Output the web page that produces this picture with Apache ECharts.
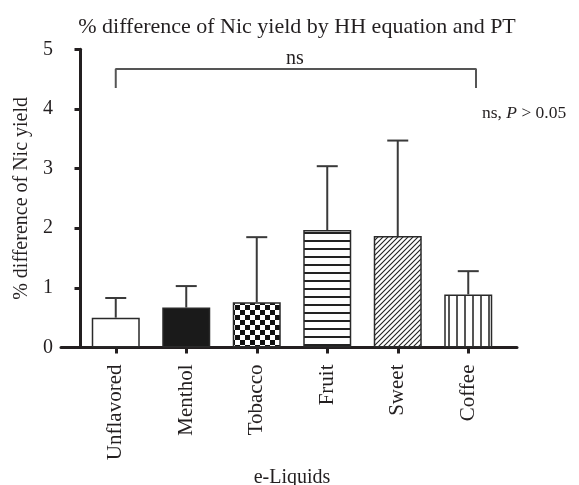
<!DOCTYPE html>
<html>
<head>
<meta charset="utf-8">
<script src="https://cdn.jsdelivr.net/npm/echarts@6/dist/echarts.min.js"></script>
<style>html,body{margin:0;padding:0;background:#fff;}#c{width:579px;height:485px;}</style>
</head>
<body>
<div id="c"></div>
<script>
const categories = ['Unflavored', 'Menthol', 'Tobacco', 'Fruit', 'Sweet', 'Coffee'];
const means = [0.50, 0.67, 0.76, 1.97, 1.87, 0.89];
const upperError = [0.83, 1.03, 1.85, 3.04, 3.47, 1.28];
const yTickValues = [0, 1, 2, 3, 4, 5];
const bracketX = [0.5, 0.5, 5.61, 5.61];
const bracketY = [4.35, 4.67, 4.67, 4.35];

const FONT = 'Liberation Serif';
const INK = '#231f20';

function pattern(kind) {
  const c = document.createElement('canvas');
  let ctx;
  if (kind === 'checker') {
    c.width = 10; c.height = 10; ctx = c.getContext('2d');
    ctx.fillStyle = '#fff'; ctx.fillRect(0, 0, 10, 10);
    ctx.fillStyle = '#111';
    ctx.fillRect(0, 0, 5, 5); ctx.fillRect(5, 5, 5, 5);
  } else if (kind === 'hlines') {
    c.width = 8; c.height = 8; ctx = c.getContext('2d');
    ctx.fillStyle = '#fff'; ctx.fillRect(0, 0, 8, 8);
    ctx.fillStyle = '#222'; ctx.fillRect(0, 0, 8, 2);
  } else if (kind === 'vlines') {
    c.width = 8; c.height = 8; ctx = c.getContext('2d');
    ctx.fillStyle = '#fff'; ctx.fillRect(0, 0, 8, 8);
    ctx.fillStyle = '#555'; ctx.fillRect(0, 0, 2, 8);
  } else if (kind === 'diag') {
    c.width = 5; c.height = 5; ctx = c.getContext('2d');
    ctx.fillStyle = '#fff'; ctx.fillRect(0, 0, 5, 5);
    ctx.strokeStyle = '#222'; ctx.lineWidth = 1.1;
    ctx.beginPath();
    ctx.moveTo(-1, 6); ctx.lineTo(6, -1);
    ctx.moveTo(-1, 1); ctx.lineTo(1, -1);
    ctx.moveTo(4, 6); ctx.lineTo(6, 4);
    ctx.stroke();
  }
  return { image: c, repeat: 'repeat' };
}

const fills = ['#ffffff', '#1a1a1a', pattern('checker'), pattern('hlines'), pattern('diag'), pattern('vlines')];

const barData = means.map((v, i) => ({
  value: v,
  itemStyle: { color: fills[i], borderColor: '#2a2a2a', borderWidth: 1.5 }
}));

const errData = means.map((v, i) => [i, v, upperError[i]]);

const chart = echarts.init(document.getElementById('c'), null, { renderer: 'canvas' });
chart.setOption({
  animation: false,
  backgroundColor: '#fff',
  title: [
    { text: '% difference of Nic yield by HH equation and PT', left: 297, top: 16, textAlign: 'center', padding: 0,
      textStyle: { fontFamily: FONT, fontSize: 22, fontWeight: 'normal', color: INK } },
    { text: 'ns', left: 295, top: 49, textAlign: 'center', padding: 0,
      textStyle: { fontFamily: FONT, fontSize: 20, fontWeight: 'normal', color: INK } },
    { text: 'ns, {i|P} > 0.05', left: 482, top: 104, padding: 0,
      textStyle: { fontFamily: FONT, fontSize: 17.5, fontWeight: 'normal', color: INK,
        rich: { i: { fontFamily: FONT, fontSize: 17.5, fontStyle: 'italic', color: INK } } } }
  ],
  grid: [
    { left: 80.5, right: 75.5, top: 49.3, bottom: 137.5, containLabel: false, outerBoundsMode: 'none' },
    { left: 61, right: 62, top: 49.3, bottom: 137.5, containLabel: false, outerBoundsMode: 'none' }
  ],
  xAxis: [
    { type: 'category', gridIndex: 0, data: categories,
      axisLine: { show: false },
      axisTick: { show: true, alignWithLabel: true, length: 6, lineStyle: { width: 3, color: INK } },
      axisLabel: { rotate: 90, margin: 17, fontFamily: FONT, fontSize: 21, color: INK },
      name: 'e-Liquids', nameLocation: 'middle', nameGap: 118,
      nameTextStyle: { fontFamily: FONT, fontSize: 20, color: INK } },
    { type: 'value', gridIndex: 1, min: 0, max: 1,
      axisLine: { show: true, onZero: false, lineStyle: { width: 3, color: INK } },
      axisTick: { show: false }, axisLabel: { show: false }, splitLine: { show: false } },
    { type: 'value', gridIndex: 0, min: 0, max: 6, show: false }
  ],
  yAxis: [
    { type: 'value', gridIndex: 0, min: 0, max: 5, interval: 1, offset: 13.5,
      axisLine: { show: true, lineStyle: { width: 3, color: INK } },
      axisTick: { show: true, length: 6, lineStyle: { width: 3, color: INK } },
      axisLabel: { margin: 14, fontFamily: FONT, fontSize: 20, color: INK,
        customValues: yTickValues },
      splitLine: { show: false },
      name: '% difference of Nic yield', nameLocation: 'middle', nameGap: 31,
      nameTextStyle: { fontFamily: FONT, fontSize: 20, color: INK } },
    { type: 'value', gridIndex: 1, min: 0, max: 1, show: false }
  ],
  series: [
    { type: 'bar', xAxisIndex: 0, yAxisIndex: 0, data: barData, barWidth: 48, z: 2 },
    { type: 'custom', xAxisIndex: 0, yAxisIndex: 0, data: errData, z: 3,
      renderItem: function (params, api) {
        const base = api.coord([api.value(0), api.value(1)]);
        const top = api.coord([api.value(0), api.value(2)]);
        const hw = 10.5;
        const st = { stroke: '#3a3a3a', lineWidth: 2 };
        return { type: 'group', children: [
          { type: 'line', shape: { x1: base[0], y1: base[1], x2: top[0], y2: top[1] }, style: st },
          { type: 'line', shape: { x1: top[0] - hw, y1: top[1], x2: top[0] + hw, y2: top[1] }, style: st }
        ]};
      } },
    { type: 'line', xAxisIndex: 2, yAxisIndex: 0, data: bracketX.map((x, i) => [x, bracketY[i]]),
      symbol: 'none', lineStyle: { color: '#555', width: 2 }, z: 4 }
  ]
});
</script>
</body>
</html>
